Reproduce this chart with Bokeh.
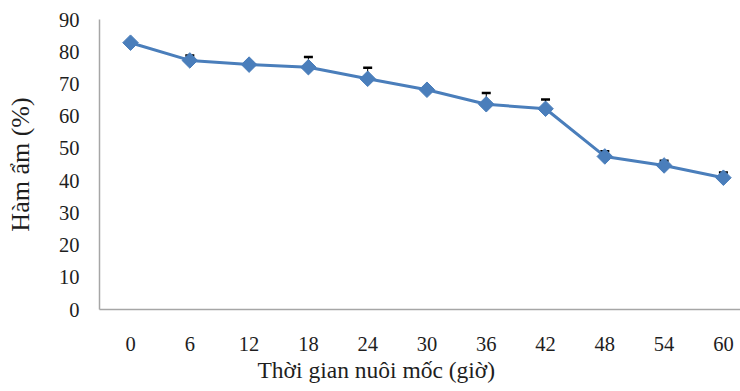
import numpy as np
from bokeh.plotting import figure
from bokeh.models import Range1d, FixedTicker, Whisker, TeeHead, ColumnDataSource, Title
from bokeh.embed import file_html
from bokeh.resources import INLINE

hours = [0, 6, 12, 18, 24, 30, 36, 42, 48, 54, 60]
moisture = [82.8, 77.3, 76.0, 75.2, 71.6, 68.2, 63.7, 62.3, 47.5, 44.7, 40.9]
errors = [0.5, 1.5, 0.5, 3.2, 3.4, 0.6, 3.5, 2.9, 1.6, 1.5, 1.6]
y_ticks = [0, 10, 20, 30, 40, 50, 60, 70, 80, 90]
x_title = "Thời gian nuôi mốc (giờ)"
y_title = "Hàm ẩm (%)"

FONT = "Liberation Serif"
BLUE = "#4A7EBB"
TXT = "#1e1e1e"

src = ColumnDataSource(dict(
    x=hours, y=moisture,
    upper=[m + e for m, e in zip(moisture, errors)],
))

p = figure(width=740, height=391, output_backend="svg", toolbar_location=None,
           x_range=Range1d(-3.14, 61.73), y_range=Range1d(0, 90),
           min_border_left=99, min_border_top=19, min_border_bottom=82,
           min_border_right=0)
p.outline_line_color = None
p.grid.visible = False
p.background_fill_color = "white"

p.xaxis.ticker = FixedTicker(ticks=hours)
p.yaxis.ticker = FixedTicker(ticks=y_ticks)
for ax in (p.xaxis, p.yaxis):
    ax.axis_line_color = "#a6a6a6"
    ax.axis_line_width = 1.5
    ax.major_tick_line_color = None
    ax.minor_tick_line_color = None
    ax.major_tick_out = 0
    ax.major_tick_in = 0
    ax.major_label_text_font = FONT
    ax.major_label_text_font_size = "20.5px"
    ax.major_label_text_color = TXT

p.yaxis.major_label_standoff = 20
p.xaxis.major_label_standoff = 27
p.yaxis.axis_label = y_title
p.yaxis.axis_label_text_font = FONT
p.yaxis.axis_label_text_font_size = "26px"
p.yaxis.axis_label_text_font_style = "normal"
p.yaxis.axis_label_text_color = TXT
p.yaxis.axis_label_standoff = 21

p.line("x", "y", source=src, line_color=BLUE, line_width=3)
w = Whisker(source=src, base="x", upper="upper", lower="y",
            line_color="black", line_width=1,
            upper_head=TeeHead(size=9, line_color="black", line_width=2.5),
            lower_head=None)
p.add_layout(w)
p.scatter("x", "y", source=src, marker="square", angle=np.pi / 4, size=11,
          fill_color=BLUE, line_color=BLUE)

t = Title(text=x_title, align="left", offset=158, text_font=FONT,
          text_font_size="23.5px", text_font_style="normal", text_color=TXT,
          standoff=2)
p.add_layout(t, "below")

open("out.html", "w").write(file_html(p, INLINE))
